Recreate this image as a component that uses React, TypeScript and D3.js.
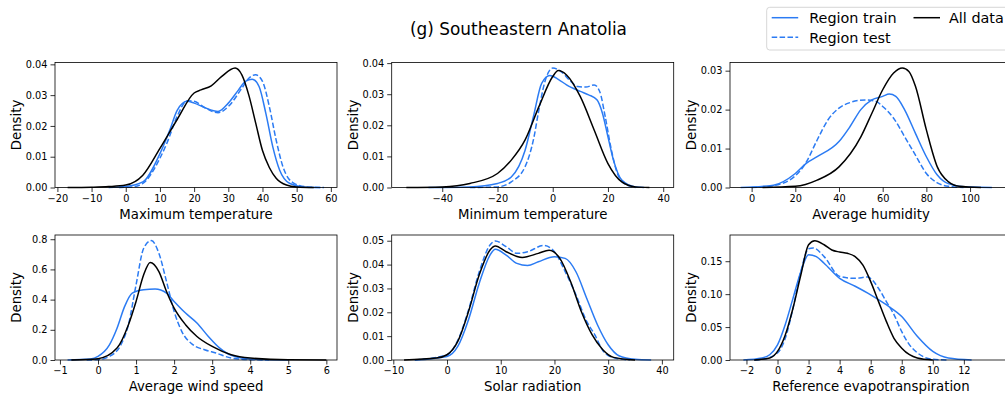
import React, { useEffect, useRef } from 'react';
import * as d3 from 'd3';

// density curves: [x, density]
const maxTempTrain = [[-5, 0], [0, 0.0003], [5, 0.0018], [10, 0.011], [13, 0.019], [15, 0.025], [18, 0.028], [20, 0.0274], [23, 0.026], [27, 0.0247], [30, 0.0274], [33, 0.0317], [35, 0.0345], [37, 0.0352], [39, 0.0328], [41, 0.024], [43, 0.0133], [45, 0.0057], [48, 0.0013], [52, 0.0002], [57, 0]];
const maxTempTest = [[-2, 0], [2, 0.0002], [5, 0.0013], [10, 0.0095], [12, 0.0143], [15, 0.023], [18, 0.0282], [20, 0.028], [23, 0.026], [27, 0.0243], [30, 0.0263], [34, 0.0323], [36, 0.0355], [38, 0.0366], [40, 0.0345], [42, 0.0263], [44, 0.0154], [46, 0.0067], [49, 0.0015], [53, 0.0002], [58, 0]];
const maxTempAll = [[-17, 0], [-10, 0.0001], [-5, 0.0003], [0, 0.0008], [5, 0.004], [10, 0.0127], [15, 0.022], [20, 0.0307], [22, 0.0317], [25, 0.033], [28, 0.036], [32, 0.0388], [34, 0.0365], [36, 0.03], [38, 0.021], [40, 0.012], [42, 0.0065], [44, 0.003], [47, 0.0008], [50, 0.0002], [55, 0]];

const minTempTrain = [[-45, 0], [-30, 0.0002], [-20, 0.0013], [-15, 0.0034], [-10, 0.012], [-7, 0.0228], [-4, 0.0335], [-1, 0.036], [2, 0.0348], [5, 0.033], [10, 0.0309], [13, 0.0298], [16, 0.0282], [18, 0.0239], [20, 0.0163], [22, 0.0088], [25, 0.0024], [30, 0.0002], [33, 0]];
const minTempTest = [[-30, 0], [-20, 0.0002], [-15, 0.0018], [-10, 0.0067], [-7, 0.0153], [-5, 0.025], [-3, 0.0335], [0, 0.0384], [3, 0.0373], [6, 0.0346], [9, 0.0325], [12, 0.0323], [15, 0.033], [17, 0.0309], [19, 0.0228], [21, 0.0131], [23, 0.0056], [26, 0.0012], [30, 0]];
const minTempAll = [[-53, 0], [-40, 0.0002], [-30, 0.0013], [-20, 0.0045], [-15, 0.0088], [-10, 0.0153], [-5, 0.026], [0, 0.0357], [2, 0.0376], [5, 0.0362], [10, 0.0292], [15, 0.0185], [20, 0.0077], [25, 0.0018], [30, 0.0002], [35, 0]];

const humidityTrain = [[-5, 0], [10, 0.0006], [20, 0.0036], [25, 0.0062], [30, 0.0079], [40, 0.0118], [45, 0.0156], [50, 0.02], [55, 0.0225], [60, 0.0234], [63, 0.024], [66, 0.0234], [70, 0.02], [75, 0.0139], [80, 0.0079], [85, 0.0032], [90, 0.001], [100, 0.0001], [110, 0]];
const humidityTest = [[0, 0], [10, 0.0005], [20, 0.003], [25, 0.0065], [30, 0.0122], [35, 0.0174], [40, 0.0204], [45, 0.0218], [52, 0.0225], [57, 0.0221], [60, 0.0208], [65, 0.0178], [70, 0.0131], [75, 0.0083], [80, 0.0036], [85, 0.0012], [90, 0.0003], [97, 0]];
const humidityAll = [[5, 0], [20, 0.0003], [30, 0.0019], [40, 0.0053], [50, 0.013], [55, 0.019], [60, 0.0251], [65, 0.0294], [69, 0.0307], [72, 0.0298], [75, 0.026], [80, 0.0148], [85, 0.0053], [90, 0.0015], [95, 0.0003], [105, 0]];

const windTrain = [[-0.8, 0], [-0.2, 0.007], [0, 0.024], [0.3, 0.1], [0.5, 0.21], [0.7, 0.355], [0.9, 0.443], [1.2, 0.465], [1.5, 0.47], [1.8, 0.443], [2.0, 0.388], [2.3, 0.311], [2.6, 0.245], [2.9, 0.156], [3.2, 0.079], [3.5, 0.031], [4, 0.006], [5, 0]];
const windTest = [[-0.3, 0], [0, 0.002], [0.3, 0.024], [0.6, 0.1], [0.8, 0.234], [1.0, 0.498], [1.2, 0.74], [1.4, 0.791], [1.6, 0.707], [1.8, 0.52], [2.0, 0.322], [2.2, 0.19], [2.5, 0.1], [2.8, 0.068], [3.1, 0.046], [3.5, 0.013], [4, 0.002], [4.5, 0]];
const windAll = [[-0.7, 0], [0, 0.009], [0.5, 0.079], [0.8, 0.234], [1.0, 0.388], [1.2, 0.564], [1.37, 0.646], [1.6, 0.586], [1.8, 0.454], [2.0, 0.344], [2.3, 0.234], [2.6, 0.156], [3.0, 0.09], [3.5, 0.035], [4, 0.013], [5, 0.001], [6, 0]];

const solarTrain = [[-6, 0], [0, 0.0015], [2, 0.0057], [4, 0.0169], [6, 0.0322], [8, 0.044], [9, 0.0464], [11, 0.044], [13, 0.0405], [15, 0.0396], [17, 0.0412], [20, 0.0433], [22, 0.0426], [24, 0.037], [26, 0.0259], [28, 0.0148], [30, 0.0064], [32, 0.0018], [35, 0.0003], [38, 0]];
const solarTest = [[-6, 0], [0, 0.0022], [2, 0.0082], [4, 0.021], [6, 0.037], [8, 0.0482], [9, 0.0499], [11, 0.0475], [13, 0.0447], [15, 0.0454], [18, 0.048], [20, 0.0454], [22, 0.037], [24, 0.0273], [26, 0.0162], [27.5, 0.0106], [29, 0.004], [31, 0.001], [34, 0]];
const solarAll = [[-8, 0], [-2, 0.0008], [0, 0.0022], [2, 0.0078], [4, 0.0203], [6, 0.0357], [8, 0.0461], [9, 0.0478], [11, 0.0454], [14, 0.043], [17, 0.0447], [19, 0.046], [21, 0.0426], [23, 0.0329], [25, 0.0203], [27, 0.0106], [29, 0.0043], [31, 0.0011], [35, 0]];

const etTrain = [[-2.2, 0], [-1, 0.003], [-0.5, 0.008], [0, 0.023], [0.5, 0.054], [1, 0.094], [1.5, 0.134], [2, 0.16], [2.5, 0.157], [3, 0.147], [4, 0.124], [5, 0.112], [6, 0.099], [7, 0.084], [8, 0.066], [9, 0.036], [10, 0.013], [11, 0.003], [12.5, 0]];
const etTest = [[-1.5, 0], [-1, 0.001], [0, 0.0106], [0.5, 0.033], [1, 0.079], [1.5, 0.134], [2, 0.169], [2.3, 0.17], [3, 0.157], [4, 0.127], [5, 0.124], [5.8, 0.126], [6.5, 0.109], [7, 0.089], [7.5, 0.069], [8, 0.043], [8.5, 0.023], [9, 0.011], [10, 0.001], [11, 0]];
const etAll = [[-1.5, 0], [-0.5, 0.003], [0, 0.013], [0.5, 0.038], [1, 0.079], [1.5, 0.129], [2, 0.175], [2.4, 0.181], [3, 0.175], [3.5, 0.167], [4, 0.164], [4.5, 0.162], [5, 0.157], [5.5, 0.144], [6, 0.119], [6.5, 0.089], [7, 0.059], [7.5, 0.033], [8, 0.018], [8.5, 0.008], [9, 0.003], [10, 0]];

const variableNames = ['Maximum temperature', 'Minimum temperature', 'Average humidity', 'Average wind speed', 'Solar radiation', 'Reference evapotranspiration'];
const xTickValues = [
  [-20, -10, 0, 10, 20, 30, 40, 50, 60],
  [-40, -20, 0, 20, 40],
  [0, 20, 40, 60, 80, 100],
  [-1, 0, 1, 2, 3, 4, 5, 6],
  [-10, 0, 10, 20, 30, 40],
  [-2, 0, 2, 4, 6, 8, 10, 12],
];
const yTickValues = [
  [0, 0.01, 0.02, 0.03, 0.04],
  [0, 0.01, 0.02, 0.03, 0.04],
  [0, 0.01, 0.02, 0.03],
  [0, 0.2, 0.4, 0.6, 0.8],
  [0, 0.01, 0.02, 0.03, 0.04, 0.05],
  [0, 0.05, 0.1, 0.15],
];
const xDomains = [[-20.7, 61.8], [-58.3, 43.8], [-9.9, 119.2], [-1.13, 6.28], [-10.3, 42.2], [-3.06, 15.1]];
const yMax = [0.0406, 0.0402, 0.0321, 0.828, 0.0524, 0.1898];
const legendLabels = ['Region train', 'Region test', 'All data'];

const BLUE = '#2b7bf3';
const FONT = 'DejaVu Sans, sans-serif';

const App = () => {
  const chartRef = useRef(null);

  useEffect(() => {
    const root = d3.select(chartRef.current);
    root.selectAll('*').remove();

    const svg = root
      .append('svg')
      .attr('width', 1005)
      .attr('height', 398)
      .style('position', 'absolute')
      .style('left', 0)
      .style('top', 0)
      .style('background', 'white');

    const series = [
      [maxTempTrain, maxTempTest, maxTempAll],
      [minTempTrain, minTempTest, minTempAll],
      [humidityTrain, humidityTest, humidityAll],
      [windTrain, windTest, windAll],
      [solarTrain, solarTest, solarAll],
      [etTrain, etTest, etAll],
    ];

    const lefts = [55, 391.7, 730];
    const tops = [62.5, 235];
    const w = 282;
    const h = 125;
    const fmt = (d) => (d < 0 ? '\u2212' + Math.abs(d) : String(d));

    series.forEach((s, i) => {
      const x0 = lefts[i % 3];
      const y0 = tops[Math.floor(i / 3)];
      const g = svg.append('g').attr('transform', `translate(${x0},${y0})`);

      const x = d3.scaleLinear().domain(xDomains[i]).range([0, w]);
      const y = d3.scaleLinear().domain([0, yMax[i]]).range([h, 0]);
      const yDigits = i === 3 ? 1 : 2;

      const line = d3
        .line()
        .x((d) => x(d[0]))
        .y((d) => y(d[1]))
        .curve(d3.curveMonotoneX);

      const styles = [
        { color: BLUE, dash: null },
        { color: BLUE, dash: '5.5,2.4' },
        { color: '#000', dash: null },
      ];
      s.forEach((pts, k) => {
        g.append('path')
          .datum(pts)
          .attr('d', line)
          .attr('fill', 'none')
          .attr('stroke', styles[k].color)
          .attr('stroke-width', 1.5)
          .attr('stroke-dasharray', styles[k].dash);
      });

      // x axis
      const xAxis = g
        .append('g')
        .attr('transform', `translate(0,${h})`)
        .call(d3.axisBottom(x).tickValues(xTickValues[i]).tickFormat(fmt).tickSize(4.5).tickPadding(3));
      // y axis
      const yAxis = g
        .append('g')
        .call(d3.axisLeft(y).tickValues(yTickValues[i]).tickFormat((d) => d.toFixed(yDigits)).tickSize(4.5).tickPadding(3));

      [xAxis, yAxis].forEach((a) => {
        a.select('.domain').remove();
        a.selectAll('line').attr('stroke', '#000').attr('stroke-width', 0.8);
        a.selectAll('text').attr('font-family', FONT).attr('font-size', 9.75).attr('fill', '#000');
      });

      // frame
      g.append('rect')
        .attr('width', w)
        .attr('height', h)
        .attr('fill', 'none')
        .attr('stroke', '#000')
        .attr('stroke-width', 0.8);

      g.append('text')
        .text(variableNames[i])
        .attr('x', w / 2)
        .attr('y', h + 31)
        .attr('text-anchor', 'middle')
        .attr('font-family', FONT)
        .attr('font-size', 13.3)
        .attr('fill', '#000');

      g.append('text')
        .text('Density')
        .attr('transform', 'rotate(-90)')
        .attr('x', -h / 2)
        .attr('y', -34)
        .attr('text-anchor', 'middle')
        .attr('font-family', FONT)
        .attr('font-size', 13.3)
        .attr('fill', '#000');
    });

    // title
    svg
      .append('text')
      .text('(g) Southeastern Anatolia')
      .attr('x', 518.5)
      .attr('y', 35)
      .attr('text-anchor', 'middle')
      .attr('font-family', FONT)
      .attr('font-size', 16.9)
      .attr('fill', '#000');

    // legend
    const legend = svg.append('g');
    legend
      .append('rect')
      .attr('x', 766.7)
      .attr('y', 7.3)
      .attr('width', 260)
      .attr('height', 42.7)
      .attr('rx', 3)
      .attr('fill', 'white')
      .attr('stroke', '#ccc')
      .attr('stroke-width', 0.8);

    const entries = [
      { x: 771.7, y: 17.7, color: BLUE, dash: null },
      { x: 771.7, y: 37.3, color: BLUE, dash: '5.5,2.4' },
      { x: 913.5, y: 17.7, color: '#000', dash: null },
    ];
    entries.forEach((e, k) => {
      legend
        .append('line')
        .attr('x1', e.x)
        .attr('x2', e.x + 26.5)
        .attr('y1', e.y)
        .attr('y2', e.y)
        .attr('stroke', e.color)
        .attr('stroke-width', 1.5)
        .attr('stroke-dasharray', e.dash);
      legend
        .append('text')
        .text(legendLabels[k])
        .attr('x', e.x + (k === 2 ? 35.5 : 37.5))
        .attr('y', e.y + 5.2)
        .attr('font-family', FONT)
        .attr('font-size', 14.4)
        .attr('fill', '#000');
    });
  }, []);

  return <div ref={chartRef}></div>;
};

export default App;
